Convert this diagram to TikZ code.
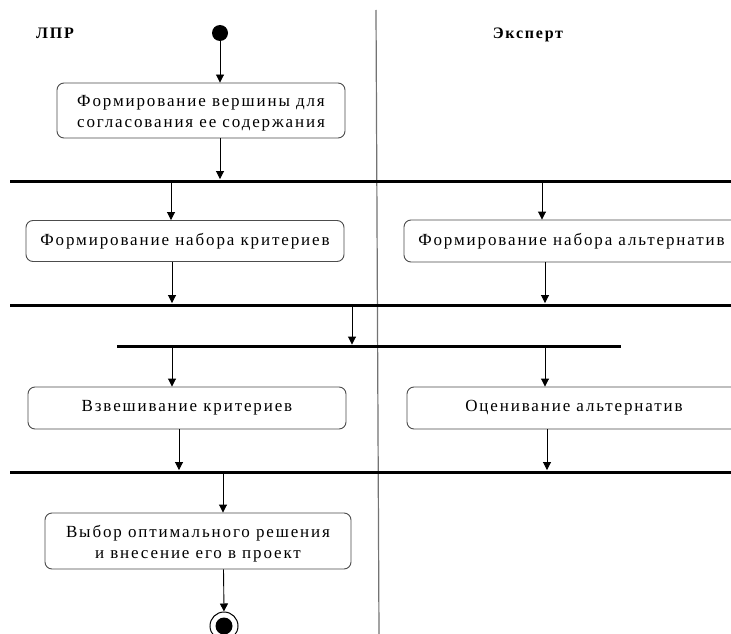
\documentclass[tikz,border=0pt]{standalone}
\usepackage{fontspec}
\setmainfont{Liberation Serif}[LetterSpace=11]
\usetikzlibrary{arrows.meta}

\tikzset{every picture/.style={line width=0.9pt}}
\tikzset{
  act/.style={draw=black!70, rounded corners=7pt, inner sep=0pt, align=center,
    font=\fontsize{17}{21}\selectfont},
  bar/.style={fill=black, inner sep=0pt, minimum height=3pt},
  flow/.style={-{Triangle[length=8pt,width=8pt]}, line width=0.9pt},
  initial/.style={circle, fill=black, inner sep=0pt, minimum size=16pt},
  finalring/.style={circle, draw=black, line width=1pt, inner sep=0pt, minimum size=28pt},
  lane/.style={font=\bfseries\fontsize{16}{18}\selectfont}
}

\begin{document}
\begin{tikzpicture}[x=1pt,y=1pt,yscale=-1,xscale=1]
\clip (0,0) rectangle (731,634);
\fill[white] (0,0) rectangle (731,634);

%Swimlane divider
\draw [color=black!55, line width=1.2pt] (376,10) -- (379,634) ;

% Text Node
\node [lane] (lpr) at (55,33) {ЛПР};
% Text Node
\node [lane] (expert) at (528,35) {Эксперт};

%Start / stop
\node [initial] (start) at (220,33) {};
\node [finalring] (stop) at (224,626) {};
\node [initial, minimum size=17pt] at (stop) {};

%Activities
\node [act, minimum width=288pt, minimum height=55pt] (box1) at (201,110.5)
  {\rule{0pt}{17pt}Формирование вершины для\\согласования ее содержания};
\node [act, minimum width=318pt, minimum height=41pt] (box2) at (185,241)
  {Формирование набора критериев};
\node [act, minimum width=335pt, minimum height=42pt] (box3) at (571.5,241)
  {Формирование набора альтернатив};
\node [act, minimum width=318pt, minimum height=42pt] (box4) at (187,408)
  {Взвешивание критериев};
\node [act, minimum width=334pt, minimum height=42pt] (box5) at (574,408)
  {Оценивание альтернатив};
\node [act, minimum width=306pt, minimum height=56pt] (box6) at (198,541)
  {\rule{0pt}{17pt}Выбор оптимального решения\\и внесение его в проект};

%Sync bars
\node [bar, minimum width=730pt] (bar1) at (375,181) {};
\node [bar, minimum width=730pt] (bar2) at (375,305) {};
\node [bar, minimum width=504pt] (bar3) at (369,346.5) {};
\node [bar, minimum width=730pt] (bar4) at (375,472) {};

%Straight Lines
\draw [flow] (start) -- (box1.north -| start) ;
\draw [flow] (box1.south -| start) -- (bar1.north -| start) ;
\draw [flow] (bar1.south -| 171,0) -- (box2.north -| 171,0) ;
\draw [flow] (bar1.south -| 542,0) -- (box3.north -| 542,0) ;
\draw [flow] (box2.south -| 172,0) -- (bar2.north -| 172,0) ;
\draw [flow] (box3.south -| 545,0) -- (bar2.north -| 545,0) ;
\draw [flow] (bar2.south -| 352,0) -- (bar3.north -| 352,0) ;
\draw [flow] (bar3.south -| 172,0) -- (box4.north -| 172,0) ;
\draw [flow] (bar3.south -| 545,0) -- (box5.north -| 545,0) ;
\draw [flow] (box4.south -| 179,0) -- (bar4.north -| 179,0) ;
\draw [flow] (box5.south -| 547,0) -- (bar4.north -| 547,0) ;
\draw [flow] (bar4.south -| 223,0) -- (box6.north -| 223,0) ;
\draw [flow] (box6.south -| 223.5,0) -- (stop.north) ;
\end{tikzpicture}
\end{document}
